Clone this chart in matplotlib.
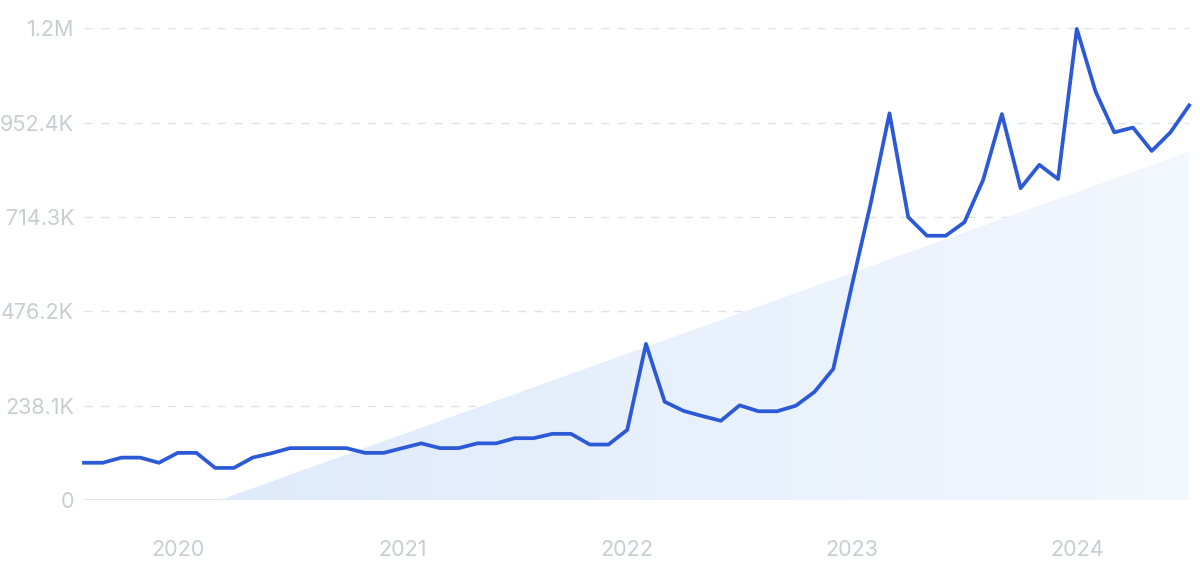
import numpy as np
import matplotlib.pyplot as plt
from matplotlib.colors import LinearSegmentedColormap

# monthly values, Aug 2019 .. Jul 2024
months = np.arange(60)
values = [
    94000, 94000, 107000, 107000, 94000,                      # Aug-Dec 2019
    119000, 119000, 81000, 81000, 107000, 118000,             # Jan-Jun 2020
    131000, 131000, 131000, 131000, 119000, 119000,           # Jul-Dec 2020
    131000, 143000, 131000, 131000, 143000, 143000,           # Jan-Jun 2021
    156000, 156000, 167000, 167000, 140000, 140000,           # Jul-Dec 2021
    177000, 394000, 248000, 225000, 212000, 200000,           # Jan-Jun 2022
    239000, 224000, 224000, 238000, 273000, 331000,           # Jul-Dec 2022
    543000, 749000, 976000, 714000, 667000, 667000,           # Jan-Jun 2023
    701000, 808000, 974000, 787000, 846000, 810000,           # Jul-Dec 2023
    1189000, 1031000, 928000, 940000, 881000, 928000, 996000, # Jan-Jul 2024
]

# trend area (start / end of the straight edge)
trend_x = [7.26, 59]
trend_y = [0, 879000]

year_pos = [5, 17, 29, 41, 53]
year_labels = ['2020', '2021', '2022', '2023', '2024']
y_ticks = [0, 238100, 476200, 714300, 952400, 1190476]
y_labels = ['0', '238.1K', '476.2K', '714.3K', '952.4K', '1.2M']

label_color = '#c9ccd3'
line_color = '#2c5ad6'

plt.rcParams['font.family'] = ['Inter', 'DejaVu Sans']

fig = plt.figure(figsize=(12, 5.62), dpi=100)
ax = fig.add_axes([0.07, 0.1103, 0.921, 0.8393])

# gradient trend area
tx = np.linspace(trend_x[0], trend_x[1], 50)
ty = np.interp(tx, trend_x, trend_y)
poly = ax.fill_between(tx, 0, ty, color='none', lw=0)
cmap = LinearSegmentedColormap.from_list('tr', ['#dfeafb', '#e8f1fc', '#f3f7fe'])
grad = np.linspace(0, 1, 256).reshape(1, -1)
img = ax.imshow(grad, cmap=cmap, aspect='auto', extent=[trend_x[0], trend_x[1], 0, trend_y[1]],
                origin='lower', zorder=1)
img.set_clip_path(poly.get_paths()[0], transform=ax.transData)

# grid
for v in y_ticks[1:]:
    ax.axhline(v, color='#dce2ee', lw=1, ls=(0, (6, 6)), zorder=0.5)
ax.axhline(0, color='#d6e2f4', lw=1.2, zorder=0.5)

ax.plot(months, values, color=line_color, lw=2.7, zorder=3, clip_on=False)

ax.set_xlim(0, 59)
ax.set_ylim(0, 1190476)
ax.set_yticks(y_ticks)
ax.set_yticklabels(y_labels)
ax.set_xticks(year_pos)
ax.set_xticklabels(year_labels)
ax.tick_params(axis='y', length=0, pad=7, labelsize=15.5, labelcolor=label_color)
ax.tick_params(axis='x', length=0, pad=29, labelsize=15.5, labelcolor=label_color)
for s in ax.spines.values():
    s.set_visible(False)

fig.savefig('out.png', dpi=100)
